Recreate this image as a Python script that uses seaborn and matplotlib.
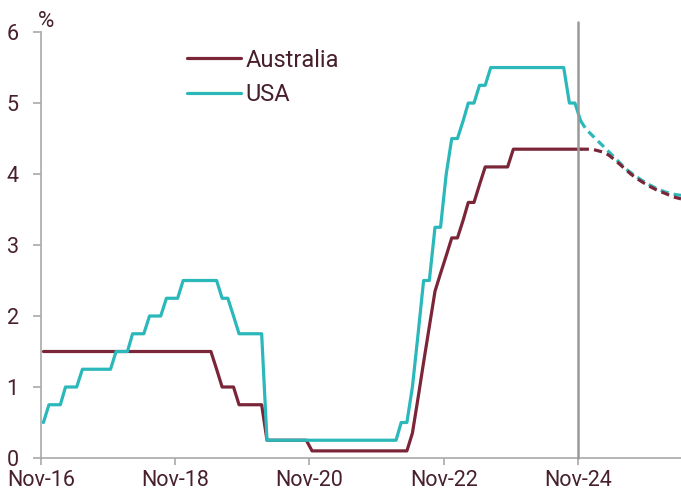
import pandas as pd
import seaborn as sns
import matplotlib.pyplot as plt
import matplotlib.dates as mdates

COLOR_AUS = "#7b2638"
COLOR_USA = "#2bb8bb"
COLOR_TEXT = "#47202b"
COLOR_AXIS = "#a9a9a9"
LINEWIDTH = 2.3

# monthly policy rates, Nov-16 .. Nov-24
aus_actual = [
	1.5, 1.5,
	1.5, 1.5, 1.5, 1.5, 1.5, 1.5, 1.5, 1.5, 1.5, 1.5, 1.5, 1.5,
	1.5, 1.5, 1.5, 1.5, 1.5, 1.5, 1.5, 1.5, 1.5, 1.5, 1.5, 1.5,
	1.5, 1.5, 1.5, 1.5, 1.5, 1.25, 1.0, 1.0, 1.0, 0.75, 0.75, 0.75,
	0.75, 0.75, 0.25, 0.25, 0.25, 0.25, 0.25, 0.25, 0.25, 0.25, 0.1, 0.1,
	0.1, 0.1, 0.1, 0.1, 0.1, 0.1, 0.1, 0.1, 0.1, 0.1, 0.1, 0.1,
	0.1, 0.1, 0.1, 0.1, 0.35, 0.85, 1.35, 1.85, 2.35, 2.6, 2.85, 3.1,
	3.1, 3.35, 3.6, 3.6, 3.85, 4.1, 4.1, 4.1, 4.1, 4.1, 4.35, 4.35,
	4.35, 4.35, 4.35, 4.35, 4.35, 4.35, 4.35, 4.35, 4.35, 4.35, 4.35]

usa_actual = [
	0.5, 0.75,
	0.75, 0.75, 1.0, 1.0, 1.0, 1.25, 1.25, 1.25, 1.25, 1.25, 1.25, 1.5,
	1.5, 1.5, 1.75, 1.75, 1.75, 2.0, 2.0, 2.0, 2.25, 2.25, 2.25, 2.5,
	2.5, 2.5, 2.5, 2.5, 2.5, 2.5, 2.25, 2.25, 2.0, 1.75, 1.75, 1.75,
	1.75, 1.75, 0.25, 0.25, 0.25, 0.25, 0.25, 0.25, 0.25, 0.25, 0.25, 0.25,
	0.25, 0.25, 0.25, 0.25, 0.25, 0.25, 0.25, 0.25, 0.25, 0.25, 0.25, 0.25,
	0.25, 0.25, 0.5, 0.5, 1.0, 1.75, 2.5, 2.5, 3.25, 3.25, 4.0, 4.5,
	4.5, 4.75, 5.0, 5.0, 5.25, 5.25, 5.5, 5.5, 5.5, 5.5, 5.5, 5.5,
	5.5, 5.5, 5.5, 5.5, 5.5, 5.5, 5.5, 5.5, 5.0, 5.0, 4.75]

# market pricing, Nov-24 .. May-26
aus_forecast = [4.35, 4.35, 4.35, 4.33, 4.31, 4.27, 4.21, 4.14, 4.07, 4.00,
	3.94, 3.89, 3.84, 3.80, 3.76, 3.73, 3.70, 3.67, 3.65]
usa_forecast = [4.75, 4.63, 4.55, 4.47, 4.40, 4.32, 4.24, 4.16, 4.08, 4.02,
	3.96, 3.91, 3.86, 3.82, 3.78, 3.75, 3.73, 3.71, 3.70]

series_names = ["Australia", "USA"]
tick_labels = ["Nov-16", "Nov-18", "Nov-20", "Nov-22", "Nov-24"]
tick_dates = ["2016-11-01", "2018-11-01", "2020-11-01", "2022-11-01", "2024-11-01"]
y_ticks = [0, 1, 2, 3, 4, 5, 6]


def monthly_frame(values, start):
	dates = pd.date_range(start, periods=len(values), freq="MS") + pd.Timedelta(days=14)
	return pd.DataFrame({"date": dates, "rate": values})


def plot_cash_rates():

	sns.set_style("white")
	plt.rcParams["font.family"] = ["Roboto", "DejaVu Sans"]

	fig = plt.figure(figsize=(6.81, 4.97), dpi=100)
	ax = fig.add_axes([0.060, 0.0785, 0.940, 0.857])

	df_aus = monthly_frame(aus_actual, "2016-11-01")
	df_usa = monthly_frame(usa_actual, "2016-11-01")
	df_aus_f = monthly_frame(aus_forecast, "2024-11-01")
	df_usa_f = monthly_frame(usa_forecast, "2024-11-01")

	sns.lineplot(x="date", y="rate", data=df_aus, color=COLOR_AUS, linewidth=LINEWIDTH,
		label=series_names[0], ax=ax)
	sns.lineplot(x="date", y="rate", data=df_usa, color=COLOR_USA, linewidth=LINEWIDTH,
		label=series_names[1], ax=ax)
	sns.lineplot(x="date", y="rate", data=df_usa_f, color=COLOR_USA, linewidth=LINEWIDTH,
		dashes=False, ax=ax, legend=False).lines[-1].set_dashes((2.6, 1.6))
	sns.lineplot(x="date", y="rate", data=df_aus_f, color=COLOR_AUS, linewidth=LINEWIDTH,
		dashes=False, ax=ax, legend=False).lines[-1].set_dashes((2.6, 1.6))

	# today marker
	nov24 = pd.Timestamp("2024-11-01")
	ax.plot([nov24, nov24], [0, 6.14], color="#999999", linewidth=1.8, clip_on=False, zorder=5)

	ax.set_xlim(pd.Timestamp("2016-11-01"), df_aus_f["date"].iloc[-1])
	ax.set_ylim(0, 6)
	ax.set_xticks(pd.to_datetime(tick_dates))
	ax.set_xticklabels(tick_labels)
	ax.set_yticks(y_ticks)
	ax.set_xlabel("")
	ax.set_ylabel("")

	for side in ["top", "right"]:
		ax.spines[side].set_visible(False)
	for side in ["left", "bottom"]:
		ax.spines[side].set_color(COLOR_AXIS)
		ax.spines[side].set_linewidth(1.2)

	ax.tick_params(axis="x", length=5, width=1.2, color=COLOR_AXIS, pad=4,
		labelsize=15.5, labelcolor=COLOR_TEXT, bottom=True)
	ax.tick_params(axis="y", length=6, width=1.2, color=COLOR_AXIS, pad=10,
		labelsize=15.5, labelcolor=COLOR_TEXT, left=True)

	ax.annotate("%", xy=(0, 1), xycoords="axes fraction", xytext=(-2, 0),
		textcoords="offset points", ha="left", va="bottom", fontsize=16, color=COLOR_TEXT)

	handles = ax.get_lines()[:2]
	leg = ax.legend(handles, series_names, loc="upper left", bbox_to_anchor=(0.228, 0.961),
		frameon=False, fontsize=17, borderpad=0, borderaxespad=0, handlelength=2.3,
		handletextpad=0.2, labelspacing=0.5)
	for text in leg.get_texts():
		text.set_color(COLOR_TEXT)

	plt.savefig("out.png", dpi=100)


if __name__ == "__main__":
	plot_cash_rates()
